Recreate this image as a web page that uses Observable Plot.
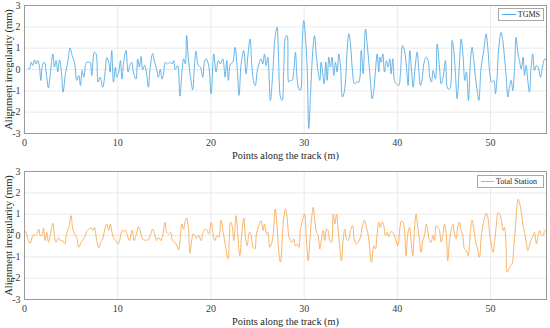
<!DOCTYPE html>
<html>
<head>
<meta charset="utf-8">
<script src="https://cdn.jsdelivr.net/npm/d3@7"></script>
<script src="https://cdn.jsdelivr.net/npm/@observablehq/plot@0.6"></script>
<style>
  html, body { margin: 0; padding: 0; background: #fff; }
  #wrap { position: relative; width: 550px; height: 328px; font-family: "Liberation Serif", "Times New Roman", serif; }
  .legend { position: absolute; background: #fff; border: 1px solid #a8a8a8; font-size: 8px; color: #262626; display: flex; align-items: center; box-sizing: border-box; padding: 0 3px 0 3px; height: 13px; font-family: "Liberation Serif", serif; }
  .legend .sw { display: inline-block; height: 0; margin-right: 2px; }
</style>
</head>
<body>
<div id="wrap"></div>
<script>
// ---- data ----
const xTicks = [0, 10, 20, 30, 40, 50];
const yTicks = [-3, -2, -1, 0, 1, 2, 3];
const xLabel = "Points along the track (m)";
const yLabel = "Alignment irregularity (mm)";
const seriesNames = ["TGMS", "Total Station"];

// [position along track (m), alignment irregularity (mm)]
const tgmsPoints = [[0.4,0.05],[0.54,0.03],[0.71,0.34],[0.89,0.19],[1.07,0.45],[1.25,0.26],[1.43,0.42],[1.61,0.11],[1.75,-0.51],[1.96,0.26],[2.14,0.34],[2.32,-0.12],[2.57,-0.86],[2.75,-0.28],[3.04,0.73],[3.21,0.11],[3.39,0.42],[3.57,-0.12],[3.75,0.45],[3.93,0.03],[4.14,-1.06],[4.39,-0.2],[4.64,0.34],[4.89,1.01],[5.11,0.65],[5.36,0.34],[5.61,-0.51],[5.82,-0.28],[6.0,-0.75],[6.18,-0.05],[6.36,-0.36],[6.54,0.19],[6.68,0.34],[6.89,0.34],[7.04,0.34],[7.21,-0.28],[7.5,0.81],[7.68,0.73],[7.89,-0.59],[8.11,-0.36],[8.39,-0.83],[8.68,0],[8.82,0.55],[9.04,0.34],[9.18,-0.12],[9.36,0.89],[9.54,-0.59],[9.75,0.11],[9.89,-0.36],[10.11,-0.12],[10.29,0.42],[10.46,-0.45],[10.64,0.34],[10.89,0.89],[11.11,-0.12],[11.29,0.19],[11.5,0.34],[11.68,-0.12],[11.96,-0.45],[12.14,0.5],[12.32,0.11],[12.5,0.61],[12.68,0],[12.89,0.19],[13.07,-0.12],[13.29,-0.83],[13.46,0],[13.75,0.75],[13.96,0.34],[14.18,0],[14.36,-0.36],[14.57,0],[14.75,-0.45],[14.89,-0.28],[15.11,0.34],[15.36,0.26],[15.61,0.34],[15.82,0.26],[16.0,0.42],[16.18,0],[16.43,0.19],[16.68,-1.25],[16.89,-0.12],[17.07,0.5],[17.25,0.26],[17.39,1.6],[17.57,0.55],[17.79,-0.28],[18.04,-0.95],[18.21,0],[18.39,0.85],[18.64,0.2],[18.87,0.11],[19.12,-0.36],[19.3,0.34],[19.48,0.5],[19.73,0.26],[20.02,-1.14],[20.3,0.73],[20.55,-0.12],[20.8,0.42],[21.02,0.26],[21.27,0.5],[21.52,-0.36],[21.7,0.42],[21.88,-0.51],[22.09,0.26],[22.34,0.34],[22.59,1.04],[22.81,0.11],[23.02,-1.21],[23.24,0.26],[23.52,0.89],[23.77,-0.2],[23.95,0.58],[24.2,1.43],[24.38,0.26],[24.6,-0.59],[24.77,-0.75],[24.95,-0.12],[25.2,0.34],[25.38,0.5],[25.56,0.26],[25.74,0.73],[25.92,0.19],[26.1,0.58],[26.38,-1.45],[26.63,-0.2],[26.88,1.51],[27.1,1.98],[27.24,0.73],[27.46,-1.29],[27.64,-1.45],[27.82,0.11],[28.0,1.51],[28.17,1.59],[28.35,-0.59],[28.53,-0.51],[28.71,-0.51],[28.89,-0.05],[29.07,0.81],[29.25,-0.44],[29.43,-0.9],[29.61,-0.98],[29.78,1.04],[29.96,2.29],[30.14,1.51],[30.32,0.11],[30.5,-2.77],[30.68,-1.21],[30.93,0.89],[31.11,1.59],[31.32,0.58],[31.5,-0.12],[31.68,-0.51],[31.82,0.34],[32.0,-0.2],[32.15,-0.67],[32.32,0.34],[32.47,-0.51],[32.65,0.58],[32.82,0.11],[33.0,0.58],[33.18,-0.28],[33.36,0.34],[33.54,-0.12],[33.72,0.73],[33.9,0.11],[34.11,-1.29],[34.26,-1.14],[34.43,-0.59],[34.61,0.89],[34.79,1.67],[34.97,1.2],[35.15,0.11],[35.4,-0.67],[35.61,-0.59],[35.86,-0.59],[36.12,0.89],[36.33,-0.2],[36.58,1.9],[36.76,1.2],[37.11,-0.51],[37.29,-1.37],[37.47,-0.98],[37.65,-0.05],[37.83,0.73],[38.01,-0.12],[38.11,0.58],[38.26,0.34],[38.44,0.73],[38.62,-0.12],[38.83,0.42],[39.01,0.11],[39.19,0.5],[39.33,-0.2],[39.51,0.5],[39.69,-0.51],[39.9,-0.67],[40.15,-0.75],[40.33,-0.2],[40.55,1.12],[40.76,0.89],[40.98,0.11],[41.15,-0.75],[41.33,0.89],[41.51,0.03],[41.69,-0.83],[41.87,-0.05],[42.12,0.81],[42.3,-0.05],[42.48,-0.75],[42.66,-0.44],[42.84,0.26],[43.09,0.58],[43.3,0.42],[43.48,-0.36],[43.66,-0.59],[43.84,-0.05],[44.09,-0.44],[44.27,1.2],[44.52,0.11],[44.7,-0.67],[44.91,-0.36],[45.16,0.42],[45.41,-0.9],[45.62,-0.9],[45.88,1.36],[46.05,0.89],[46.23,-0.2],[46.41,-1.37],[46.66,0.26],[46.84,1.43],[47.06,0.58],[47.23,-0.51],[47.41,-0.12],[47.63,-1.45],[47.84,0.42],[48.02,1.04],[48.2,0.42],[48.38,-0.36],[48.56,-0.98],[48.74,-1.45],[48.99,0.11],[49.27,0.89],[49.52,1.67],[49.7,1.04],[49.92,-0.2],[50.1,-0.59],[50.35,-0.51],[50.52,-1.14],[50.7,-0.36],[50.88,1.04],[51.13,1.74],[51.31,1.36],[51.49,0.58],[51.67,-0.28],[51.85,-1.29],[52.03,-0.83],[52.21,-0.51],[52.38,-0.98],[52.56,-0.05],[52.74,1.51],[52.92,0.81],[53.1,0.42],[53.28,0.03],[53.49,0.58],[53.64,-0.28],[53.82,0.19],[53.99,-0.51],[54.17,-1.06],[54.35,0.11],[54.53,0.73],[54.71,-0.05],[54.92,0.19],[55.1,0.11],[55.35,-0.36],[55.6,0.19],[55.82,0.5],[56.0,0.42]];

const totalStationPoints = [[0,0.22],[0.11,0.19],[0.36,-0.16],[0.61,-0.37],[0.82,-0.09],[1.0,0.04],[1.18,0],[1.36,0.1],[1.54,0.3],[1.68,0],[1.86,0],[2.04,0.35],[2.21,-0.24],[2.39,0.15],[2.57,-0.32],[2.79,0.07],[3.04,0.57],[3.21,0],[3.39,-0.32],[3.64,-0.09],[3.86,-0.24],[4.11,-0.24],[4.32,-0.4],[4.54,0.15],[4.75,0.38],[5.0,0.93],[5.18,0.3],[5.39,0.07],[5.61,-0.09],[5.82,-0.55],[6.07,-0.32],[6.32,-0.16],[6.54,0],[6.71,0.23],[6.89,0.3],[7.11,0.38],[7.32,0.23],[7.5,0.38],[7.75,-0.24],[7.96,-0.58],[8.18,-0.32],[8.39,-0.16],[8.61,0.3],[8.82,0.54],[9.04,0.23],[9.21,0.54],[9.39,0.15],[9.61,-0.16],[9.82,-0.24],[10.04,-0.4],[10.25,-0.16],[10.46,0.23],[10.64,0.19],[10.82,0.26],[11.0,0.07],[11.25,-0.24],[11.54,0.26],[11.75,-0.24],[11.96,0],[12.25,0.41],[12.5,0.07],[12.75,-0.21],[13.04,-0.21],[13.29,-0.21],[13.5,0],[13.75,0.3],[13.96,0.07],[14.18,-0.24],[14.39,-0.09],[14.64,-0.24],[14.82,0],[15.07,0.62],[15.25,0.15],[15.46,0.07],[15.68,0.15],[15.89,-0.24],[16.14,-0.32],[16.36,-0.48],[16.54,-0.68],[16.71,-0.09],[16.89,0.54],[17.07,0.3],[17.25,0.69],[17.39,0.82],[17.57,0.38],[17.75,-0.83],[17.93,-0.24],[18.11,0.07],[18.29,0],[18.46,-0.12],[18.68,0],[18.95,-0.24],[19.16,0.15],[19.41,0.3],[19.59,0.23],[19.77,0.07],[20.02,0.62],[20.23,0.07],[20.41,-0.24],[20.66,0],[20.84,-0.09],[21.09,0.72],[21.31,0.15],[21.56,-0.48],[21.84,-1.1],[22.1,0.62],[22.27,0.46],[22.45,-0.24],[22.7,0.93],[22.88,0.07],[23.1,-0.94],[23.31,0.07],[23.53,0.82],[23.7,-0.09],[23.88,-0.48],[24.13,0.15],[24.31,0],[24.53,-0.55],[24.71,-0.63],[24.88,0.07],[25.13,0.46],[25.38,0.69],[25.6,0.23],[25.74,0.54],[25.96,0.07],[26.1,0.15],[26.31,-0.55],[26.49,-0.4],[26.67,0],[26.89,1.24],[27.1,0.38],[27.28,-0.79],[27.46,-1.25],[27.64,-0.24],[27.82,0.85],[28.0,1.24],[28.17,0.85],[28.35,0],[28.53,-0.24],[28.71,-0.32],[28.89,-0.16],[29.07,-0.48],[29.25,-0.4],[29.43,-0.55],[29.61,0.3],[29.82,0.69],[30.04,1.0],[30.25,-0.24],[30.43,-1.18],[30.61,-0.24],[30.79,0.77],[30.97,1.32],[31.14,0.69],[31.32,0.15],[31.5,0],[31.68,-0.63],[31.86,-0.16],[32.04,0.23],[32.22,-0.24],[32.4,0.3],[32.57,0.23],[32.75,-0.24],[32.93,-0.32],[33.11,1.0],[33.29,0.54],[33.47,1.0],[33.65,0.23],[33.83,-0.55],[34.0,-1.18],[34.18,-0.24],[34.36,0.3],[34.54,-0.16],[34.72,-0.24],[34.97,0.23],[35.19,0.46],[35.4,-0.24],[35.61,-0.4],[35.79,-0.32],[36.04,-0.09],[36.22,0.38],[36.47,0.72],[36.69,0.38],[36.93,-0.16],[37.22,-1.25],[37.47,-0.48],[37.65,-0.63],[37.83,0.07],[38.01,0.62],[38.18,0.38],[38.36,0.65],[38.54,0.46],[38.72,0],[38.9,0.15],[39.08,-0.05],[39.26,0.15],[39.44,0.18],[39.62,0.07],[39.8,-0.16],[40.05,-0.48],[40.26,0.3],[40.44,0.69],[40.62,0.62],[40.8,0],[40.94,-0.94],[41.12,0.07],[41.3,0.38],[41.48,-0.32],[41.66,-0.94],[41.83,0.3],[42.01,1.0],[42.19,0.38],[42.37,-0.16],[42.55,-0.79],[42.73,-0.24],[42.91,0],[43.09,0.54],[43.26,0.23],[43.44,-0.24],[43.62,-0.32],[43.8,0],[43.98,-0.24],[44.16,0.46],[44.34,0.38],[44.52,0.23],[44.7,-0.32],[44.88,0],[45.05,0.54],[45.23,0.15],[45.41,-1.18],[45.59,-0.24],[45.77,0.23],[45.95,0.54],[46.13,0.07],[46.3,-0.16],[46.48,0.38],[46.66,0.62],[46.84,0.23],[47.02,0],[47.2,-0.63],[47.41,-0.71],[47.59,-0.94],[47.84,0.23],[48.02,0.72],[48.2,0.3],[48.38,-0.24],[48.56,-0.55],[48.81,-1.02],[48.99,-0.09],[49.2,0.54],[49.38,0.85],[49.56,1.04],[49.74,0.77],[49.92,0],[50.1,-0.48],[50.27,-0.79],[50.45,-0.24],[50.63,0.54],[50.81,1.08],[50.99,1.0],[51.17,0.69],[51.35,0.23],[51.49,0.38],[51.67,-0.55],[51.78,-1.72],[51.96,-1.56],[52.14,-1.41],[52.31,-1.33],[52.49,-0.55],[52.67,0.38],[52.78,1.15],[52.96,1.7],[53.14,1.47],[53.32,1.0],[53.49,0.46],[53.64,0.15],[53.82,-0.32],[53.99,-0.71],[54.21,-0.4],[54.39,-0.16],[54.57,0],[54.71,0.15],[54.92,-0.4],[55.1,0],[55.28,0.23],[55.46,0],[55.64,0],[55.82,0.23],[56.0,0.23]];

// ---- drawing ----
const fontFamily = "Liberation Serif";
const colors = ["#4aa6e4", "#f8a64c"];
const wrap = document.getElementById("wrap");

function panel(points, color, height, marginTop) {
  const data = points.map(([x, y]) => ({x, y}));
  return Plot.plot({
    width: 550,
    height,
    marginLeft: 24,
    marginRight: 4,
    marginTop,
    marginBottom: 29,
    style: {fontFamily, fontSize: "10px", color: "#333", background: "#fff", overflow: "visible"},
    x: {domain: [0, 56]},
    y: {domain: [-3, 3]},
    marks: [
      Plot.gridX(xTicks, {stroke: "#e4e4e4", strokeOpacity: 1, strokeWidth: 0.8}),
      Plot.gridY(yTicks, {stroke: "#e4e4e4", strokeOpacity: 1, strokeWidth: 0.8}),
      Plot.axisX(xTicks, {tickSize: 0, tickPadding: 5, label: null, tickFormat: d => String(d), fill: "#3a3a3a", fontSize: 10, fontFamily}),
      Plot.axisY(yTicks, {tickSize: 0, tickPadding: 4, label: null, tickFormat: d => String(d), fill: "#3a3a3a", fontSize: 10, fontFamily}),
      Plot.line(data, {x: "x", y: "y", stroke: color, strokeWidth: 0.85, curve: "catmull-rom"}),
      Plot.frame({stroke: "#9a9a9a", strokeWidth: 1}),
      Plot.text([xLabel], {text: d => d, frameAnchor: "bottom", dy: 22, fontSize: 10.3, fontFamily, fill: "#262626", lineAnchor: "middle", textAnchor: "middle"}),
      Plot.text([yLabel], {text: d => d, frameAnchor: "left", dx: -16, rotate: -90, fontSize: 10.5, fontFamily, fill: "#262626", lineAnchor: "middle", textAnchor: "middle"})
    ]
  });
}

const topPlot = panel(tgmsPoints, colors[0], 162, 5);
const bottomPlot = panel(totalStationPoints, colors[1], 166, 9);
topPlot.style.display = "block";
bottomPlot.style.display = "block";
wrap.appendChild(topPlot);
wrap.appendChild(bottomPlot);

function legend(name, color, left, topPx, width, swatch) {
  const d = document.createElement("div");
  d.className = "legend";
  d.style.left = left + "px";
  d.style.top = topPx + "px";
  d.style.width = width + "px";
  const s = document.createElement("span");
  s.className = "sw";
  s.style.width = swatch + "px";
  s.style.borderTop = "1px solid " + color;
  const t = document.createElement("span");
  t.textContent = name;
  d.appendChild(s);
  d.appendChild(t);
  wrap.appendChild(d);
}
legend(seriesNames[0], colors[0], 498, 8, 46, 15);
legend(seriesNames[1], colors[1], 477, 175, 67, 13);
</script>
</body>
</html>
